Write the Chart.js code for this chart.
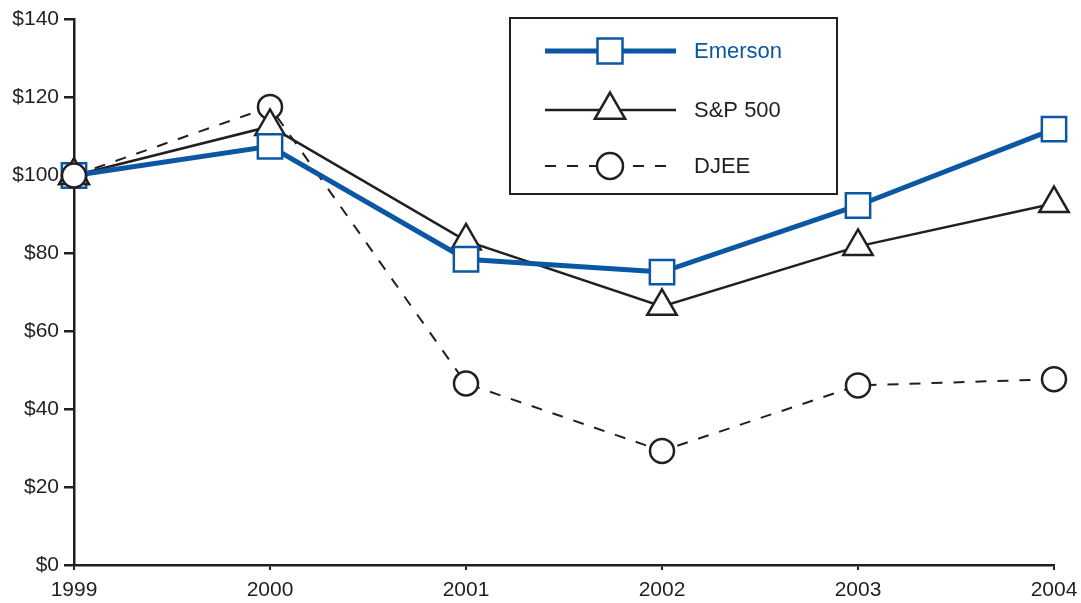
<!DOCTYPE html>
<html>
<head>
<meta charset="utf-8">
<script src="https://cdn.jsdelivr.net/npm/chart.js@4/dist/chart.umd.min.js"></script>
<style>
  html, body { margin: 0; padding: 0; background: #fff; }
  #wrap { width: 1081px; height: 603px; }
</style>
</head>
<body>
<div id="wrap"><canvas id="c" width="1081" height="603"></canvas></div>
<script>
// Five-year cumulative return, value of $100 invested
const years = ['1999', '2000', '2001', '2002', '2003', '2004'];
const emerson = [100, 107.5, 78.5, 75.2, 92.3, 111.9];
const sp500 = [100, 112.6, 83.2, 66.4, 81.8, 92.8];
const djee = [100, 117.6, 46.6, 29.3, 46.1, 47.7];
const seriesNames = ['Emerson', 'S&P 500', 'DJEE'];
const yMin = 0, yMax = 140, yStep = 20;

const INK = '#231f20';
const BLUE = '#0b57a4';
const FONT = "'Liberation Sans', Arial, Helvetica, sans-serif";

// Boxed legend in the upper right of the plot
const legendBox = {
  id: 'legendBox',
  afterDraw(chart) {
    const ctx = chart.ctx;
    ctx.save();
    ctx.lineWidth = 2;
    ctx.strokeStyle = INK;
    ctx.strokeRect(510, 18, 327, 176);

    const rows = [
      { y: 51, color: BLUE, width: 5, dash: [], marker: 'rect', text: BLUE },
      { y: 110, color: INK, width: 2.5, dash: [], marker: 'triangle', text: INK },
      { y: 166, color: INK, width: 2, dash: [11, 11], marker: 'circle', text: INK }
    ];
    const x0 = 545, x1 = 676, xm = 610;
    rows.forEach((r, i) => {
      ctx.setLineDash(r.dash);
      ctx.lineWidth = r.width;
      ctx.strokeStyle = r.color;
      ctx.beginPath();
      ctx.moveTo(x0, r.y);
      ctx.lineTo(x1, r.y);
      ctx.stroke();
      ctx.setLineDash([]);
      ctx.fillStyle = '#fff';
      ctx.lineWidth = 2.5;
      ctx.beginPath();
      if (r.marker === 'rect') {
        ctx.rect(xm - 12.5, r.y - 12.5, 25, 25);
      } else if (r.marker === 'triangle') {
        const rad = 17.5;
        ctx.moveTo(xm, r.y - rad);
        ctx.lineTo(xm + rad * Math.sin(2 * Math.PI / 3), r.y + rad / 2);
        ctx.lineTo(xm - rad * Math.sin(2 * Math.PI / 3), r.y + rad / 2);
        ctx.closePath();
      } else {
        ctx.arc(xm, r.y, 13, 0, Math.PI * 2);
      }
      ctx.fill();
      ctx.stroke();
      ctx.fillStyle = r.text;
      ctx.font = '22px ' + FONT;
      ctx.textAlign = 'left';
      ctx.textBaseline = 'middle';
      ctx.fillText(seriesNames[i], 694, r.y + 1);
    });
    ctx.restore();
  }
};

// The 1999 start points stack as square, triangle, then circle
const startPoints = {
  id: 'startPoints',
  afterDatasetsDraw(chart) {
    const ctx = chart.ctx;
    chart.getDatasetMeta(1).data[0].draw(ctx);
    chart.getDatasetMeta(2).data[0].draw(ctx);
  }
};

new Chart(document.getElementById('c'), {
  type: 'line',
  data: {
    labels: years,
    datasets: [
      {
        label: seriesNames[0], data: emerson,
        borderColor: BLUE, borderWidth: 5,
        pointStyle: 'rect', pointRadius: 17.2, pointBorderWidth: 2.5,
        pointBackgroundColor: '#fff', pointBorderColor: BLUE,
        tension: 0, clip: false
      },
      {
        label: seriesNames[1], data: sp500,
        borderColor: INK, borderWidth: 2.5,
        pointStyle: 'triangle', pointRadius: 17, pointBorderWidth: 2.5,
        pointBackgroundColor: '#fff', pointBorderColor: INK,
        tension: 0, clip: false
      },
      {
        label: seriesNames[2], data: djee,
        borderColor: INK, borderWidth: 2, borderDash: [11, 11],
        pointStyle: 'circle', pointRadius: 12, pointBorderWidth: 2.5,
        pointBackgroundColor: '#fff', pointBorderColor: INK,
        tension: 0, clip: false
      }
    ]
  },
  options: {
    responsive: false,
    animation: false,
    events: [],
    layout: { padding: { top: 16, right: 27, bottom: 0, left: 0 } },
    plugins: { legend: { display: false }, tooltip: { enabled: false } },
    scales: {
      x: {
        type: 'category',
        offset: false,
        grid: { display: true, drawOnChartArea: false, drawTicks: true, tickLength: 5, color: INK, lineWidth: 2 },
        border: { display: true, color: INK, width: 2.5 },
        ticks: { color: INK, font: { family: FONT, size: 21 }, padding: 8, maxRotation: 0 },
        afterFit(scale) { scale.height = 38; scale.paddingLeft = 0; scale.paddingRight = 0; }
      },
      y: {
        min: yMin, max: yMax,
        grid: { display: true, drawOnChartArea: false, drawTicks: true, tickLength: 10, color: INK, lineWidth: 2.5 },
        border: { display: true, color: INK, width: 2.5 },
        ticks: {
          stepSize: yStep, color: INK, padding: 5,
          font: { family: FONT, size: 21 },
          callback: v => '$' + v
        },
        afterFit(scale) { scale.width = 74; }
      }
    }
  },
  plugins: [startPoints, legendBox]
});
</script>
</body>
</html>
